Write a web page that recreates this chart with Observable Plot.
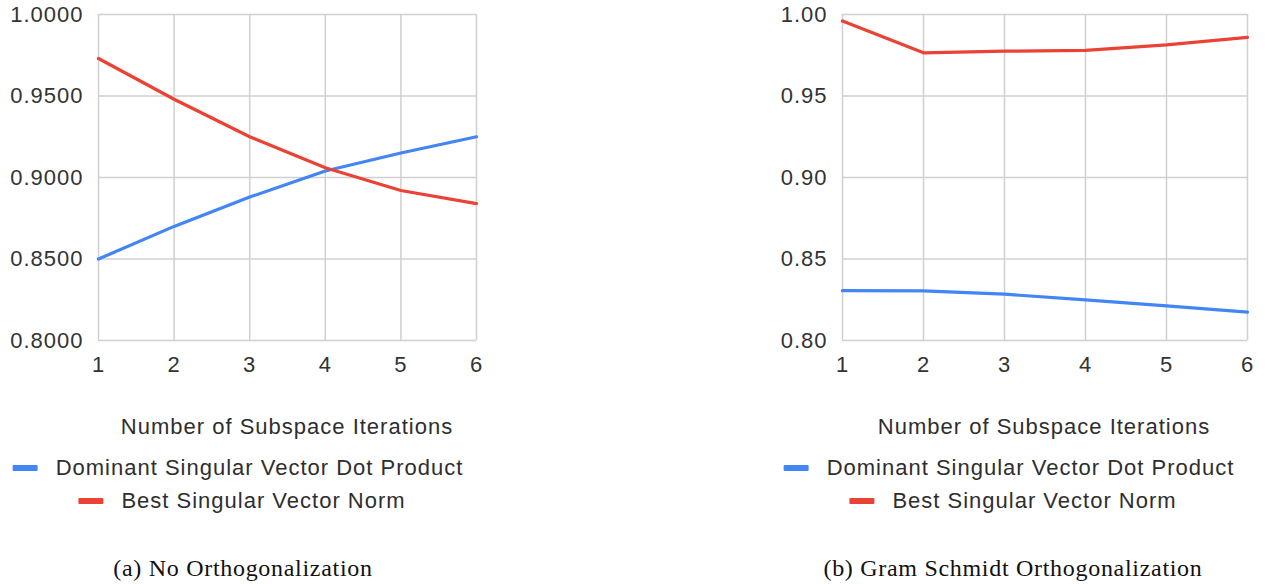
<!DOCTYPE html>
<html>
<head>
<meta charset="utf-8">
<script src="https://cdn.jsdelivr.net/npm/d3@7"></script>
<script src="https://cdn.jsdelivr.net/npm/@observablehq/plot@0.6"></script>
<style>
  html, body { margin: 0; padding: 0; background: #fff; }
  #page { position: relative; width: 1265px; height: 584px; overflow: hidden; }
  .panel { position: absolute; top: 0; }
  .sans { font-family: "Liberation Sans", Arial, sans-serif; font-size: 22px; letter-spacing: 1px; color: #2e2e2e; }
  .abs { position: absolute; white-space: nowrap; }
  .center { transform: translate(-50%, -50%); }
  .legrow { display: flex; align-items: center; }
  .sw { display: inline-block; width: 25px; height: 6px; border-radius: 1px; margin-right: 18px; }
  .caption { font-family: "Liberation Serif", "Times New Roman", serif; font-size: 24px; letter-spacing: 0.7px; color: #111; }
</style>
</head>
<body>
<div id="page"></div>
<script>
// ---- data ----
const iterations = [1, 2, 3, 4, 5, 6];
const yTicks = [0.80, 0.85, 0.90, 0.95, 1.00];
const seriesNames = ["Dominant Singular Vector Dot Product", "Best Singular Vector Norm"];
const seriesColors = ["#4285F4", "#EA4335"];
// (a) No Orthogonalization
const noOrthDot  = [0.850, 0.870, 0.888, 0.904, 0.915, 0.925];
const noOrthNorm = [0.973, 0.948, 0.925, 0.906, 0.892, 0.884];
// (b) Gram Schmidt Orthogonalization
const gsDot  = [0.8306, 0.8304, 0.8284, 0.8249, 0.8212, 0.8174];
const gsNorm = [0.996, 0.9765, 0.9775, 0.978, 0.9814, 0.986];
const xTitle = "Number of Subspace Iterations";
const captions = ["(a) No Orthogonalization", "(b) Gram Schmidt Orthogonalization"];

const page = document.getElementById("page");

function makeChart({dot, norm, fmt, width, marginLeft, marginRight}) {
  const dotData = iterations.map((x, i) => ({x, y: dot[i]}));
  const normData = iterations.map((x, i) => ({x, y: norm[i]}));
  return Plot.plot({
    width, height: 385,
    marginTop: 14, marginBottom: 45, marginLeft, marginRight,
    style: "font-family: 'Liberation Sans', Arial, sans-serif; font-size: 22px; letter-spacing: 1px; color: #333; background: transparent; overflow: visible;",
    x: {domain: [1, 6], label: null},
    y: {domain: [0.8, 1.0], label: null},
    marks: [
      Plot.ruleX(iterations, {x: d => d, stroke: "#d0d0d0", strokeWidth: 1.5}),
      Plot.ruleY(yTicks, {y: d => d, stroke: "#d0d0d0", strokeWidth: 1.5}),
      Plot.axisX({ticks: iterations, tickFormat: d => String(d), tickSize: 0, tickPadding: 16, label: null}),
      Plot.axisY({ticks: yTicks, tickFormat: d3.format(fmt), tickSize: 0, tickPadding: 15, label: null}),
      Plot.line(dotData, {x: "x", y: "y", stroke: seriesColors[0], strokeWidth: 3.2}),
      Plot.line(normData, {x: "x", y: "y", stroke: seriesColors[1], strokeWidth: 3.2})
    ]
  });
}

function addPanel({left, chartOpts, plotCenter, legendCenter, captionCenter, caption}) {
  const div = document.createElement("div");
  div.className = "panel";
  div.style.left = left + "px";
  div.appendChild(makeChart(chartOpts));
  page.appendChild(div);

  const t = document.createElement("div");
  t.className = "abs center sans";
  t.style.left = plotCenter + "px";
  t.style.top = "427px";
  t.textContent = xTitle;
  page.appendChild(t);

  [468, 501].forEach((y, i) => {
    const row = document.createElement("div");
    row.className = "abs center sans legrow";
    row.style.left = (legendCenter + (i === 1 ? 4 : 0)) + "px";
    row.style.top = y + "px";
    const sw = document.createElement("span");
    sw.className = "sw";
    sw.style.background = seriesColors[i];
    const tx = document.createElement("span");
    tx.textContent = seriesNames[i];
    row.appendChild(sw); row.appendChild(tx);
    page.appendChild(row);
  });

  const c = document.createElement("div");
  c.className = "abs center caption";
  c.style.left = captionCenter + "px";
  c.style.top = "568px";
  c.textContent = caption;
  page.appendChild(c);
}

addPanel({
  left: 0,
  chartOpts: {dot: noOrthDot, norm: noOrthNorm, fmt: ".4f", width: 500, marginLeft: 98, marginRight: 24},
  plotCenter: 287, legendCenter: 238, captionCenter: 243, caption: captions[0]
});
addPanel({
  left: 740,
  chartOpts: {dot: gsDot, norm: gsNorm, fmt: ".2f", width: 525, marginLeft: 102, marginRight: 18},
  plotCenter: 1044, legendCenter: 1009, captionCenter: 1013, caption: captions[1]
});
</script>
</body>
</html>
